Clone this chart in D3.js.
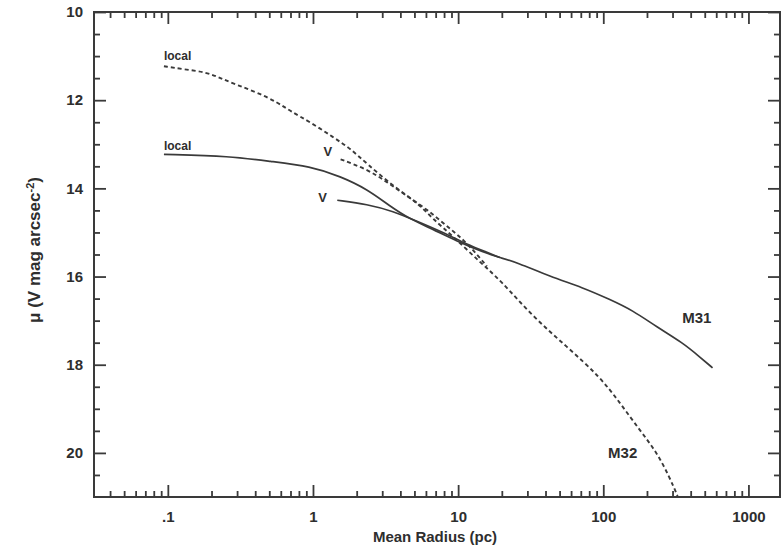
<!DOCTYPE html>
<html>
<head>
<meta charset="utf-8">
<script src="https://cdn.jsdelivr.net/npm/d3@7"></script>
<style>
  body { margin: 0; background: #fff; }
  text { font-family: "Liberation Sans", Arial, sans-serif; fill: #2e2e2e; font-weight: bold; }
</style>
</head>
<body>
<div id="chart"></div>
<script>
// radius (pc) / surface brightness (V mag arcsec^-2)
const m32LocalR  = [0.094, 0.129, 0.182, 0.231, 0.303, 0.415, 0.57, 0.70, 0.96, 1.38, 1.81, 2.37, 3.57, 5.23, 6.73, 9.24, 14.2, 19.4, 32.7, 56.1, 94.6, 130, 178, 233, 286, 325];
const m32LocalMu = [11.23, 11.30, 11.36, 11.50, 11.66, 11.83, 12.05, 12.25, 12.5, 12.84, 13.1, 13.45, 13.95, 14.32, 14.70, 15.09, 15.68, 16.07, 16.91, 17.59, 18.27, 18.86, 19.48, 19.98, 20.55, 20.98];
const m32VR  = [1.55, 2.37, 3.25, 4.46, 6.12, 8.40, 11.5, 15.8];
const m32VMu = [13.34, 13.57, 13.86, 14.18, 14.48, 14.86, 15.23, 15.77];

const m31LocalR  = [0.094, 0.271, 0.51, 0.96, 1.55, 2.37, 3.41, 4.68, 6.73, 10.3, 14.9, 19.4, 25.4, 42.9, 72.3, 111, 160, 233, 352, 461, 566];
const m31LocalMu = [13.23, 13.27, 13.39, 13.5, 13.73, 14.02, 14.41, 14.70, 14.93, 15.23, 15.45, 15.57, 15.68, 16.0, 16.25, 16.52, 16.77, 17.14, 17.5, 17.82, 18.07];
const m31VR  = [1.47, 2.37, 3.57, 5.23, 7.89, 11.5, 15.8, 19.4];
const m31VMu = [14.27, 14.36, 14.52, 14.75, 15.0, 15.27, 15.45, 15.57];

const xMajor = [0.1, 1, 10, 100, 1000];
const xLabels = [".1", "1", "10", "100", "1000"];
const yMajor = [10, 12, 14, 16, 18, 20];

const width = 783, height = 549;
const margin = { top: 12, right: 3, bottom: 52, left: 94 };

const svg = d3.select('#chart').append('svg')
    .attr('width', width)
    .attr('height', height);

const x = d3.scaleLog().domain([0.031, 1650]).range([margin.left, width - margin.right]);
const y = d3.scaleLinear().domain([10, 21]).range([margin.top, height - margin.bottom]);

const ink = '#3a3a3a';
const xMinor = x.ticks().filter(v => !xMajor.some(m => Math.abs(m - v) / m < 1e-6));
const yMinor = d3.range(10.5, 21, 0.5).filter(v => !yMajor.includes(v));

// frame
svg.append('rect')
    .attr('x', margin.left).attr('y', margin.top)
    .attr('width', width - margin.right - margin.left)
    .attr('height', height - margin.bottom - margin.top)
    .attr('fill', 'none').attr('stroke', ink).attr('stroke-width', 2);

function tickAxis(axisFn, scale, values, size, transform, labels) {
    const g = svg.append('g')
        .attr('transform', transform)
        .call(axisFn(scale).tickValues(values).tickSizeInner(size).tickSizeOuter(0)
            .tickFormat(labels ? labels : () => ''));
    g.select('.domain').remove();
    g.selectAll('line').attr('stroke', ink).attr('stroke-width', 1.8);
    return g;
}

const bottomY = height - margin.bottom, rightX = width - margin.right;

// bottom
const bx = tickAxis(d3.axisBottom, x, xMajor, -12, `translate(0,${bottomY})`, (d, i) => xLabels[i]);
bx.selectAll('text').attr('y', 14).attr('font-size', 15).attr('fill', '#2e2e2e');
tickAxis(d3.axisBottom, x, xMinor, -6, `translate(0,${bottomY})`);
// top
tickAxis(d3.axisTop, x, xMajor, -12, `translate(0,${margin.top})`);
tickAxis(d3.axisTop, x, xMinor, -6, `translate(0,${margin.top})`);
// left
const ly = tickAxis(d3.axisLeft, y, yMajor, -12, `translate(${margin.left},0)`, d => d);
ly.selectAll('text').attr('x', -11).attr('font-size', 15).attr('fill', '#2e2e2e');
tickAxis(d3.axisLeft, y, yMinor, -6, `translate(${margin.left},0)`);
// right
tickAxis(d3.axisRight, y, yMajor, -12, `translate(${rightX},0)`);
tickAxis(d3.axisRight, y, yMinor, -6, `translate(${rightX},0)`);

// axis titles
svg.append('text')
    .attr('x', 435).attr('y', 542)
    .attr('text-anchor', 'middle').attr('font-size', 15)
    .text('Mean Radius (pc)');

const yt = svg.append('text')
    .attr('transform', 'translate(40,250) rotate(-90)')
    .attr('text-anchor', 'middle').attr('font-size', 17);
yt.append('tspan').text('μ (V mag arcsec');
yt.append('tspan').attr('dy', -6).attr('font-size', 11).text('-2');
yt.append('tspan').attr('dy', 6).text(')');

// curves
const line = d3.line()
    .x(d => x(d[0]))
    .y(d => y(d[1]))
    .curve(d3.curveBasis);

function curve(rs, mus, dashed) {
    svg.append('path')
        .datum(d3.zip(rs, mus))
        .attr('fill', 'none')
        .attr('stroke', ink)
        .attr('stroke-width', dashed ? 1.9 : 1.7)
        .attr('stroke-dasharray', dashed ? '4,3' : null)
        .attr('d', line);
}

curve(m32LocalR, m32LocalMu, true);
curve(m32VR, m32VMu, true);
curve(m31LocalR, m31LocalMu, false);
curve(m31VR, m31VMu, false);

// curve labels
function label(r, mu, txt, size, dx, dy, anchor) {
    svg.append('text')
        .attr('x', x(r) + dx).attr('y', y(mu) + dy)
        .attr('text-anchor', anchor || 'start')
        .attr('font-size', size)
        .text(txt);
}
label(m32LocalR[0], m32LocalMu[0], 'local', 12, 0, -6);
label(m31LocalR[0], m31LocalMu[0], 'local', 12, 0, -4);
label(m32VR[0], m32VMu[0], 'V', 13, -17, -3);
label(m31VR[0], m31VMu[0], 'V', 13, -19, 2);
label(441, 17.05, 'M31', 15, 0, 0, 'middle');
label(136, 20.12, 'M32', 15, 0, 0, 'middle');
</script>
</body>
</html>
